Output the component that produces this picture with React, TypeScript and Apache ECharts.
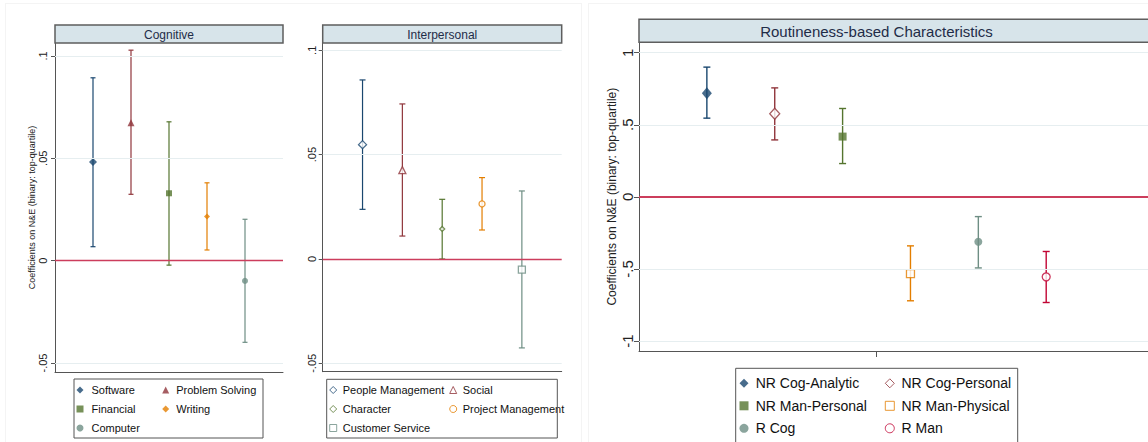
import React, { useEffect, useRef } from "react";
import * as echarts from "echarts";

const FONT = "'Liberation Sans', Arial, Helvetica, sans-serif";

// ---------- Data ----------
const cognitiveNames = ["Software", "Problem Solving", "Financial", "Writing", "Computer"];
const cognitiveCoef = [0.0482, 0.0674, 0.0329, 0.0215, -0.0099];
const cognitiveLow = [0.0068, 0.0324, -0.0022, 0.0052, -0.0399];
const cognitiveHigh = [0.0893, 0.1028, 0.0678, 0.038, 0.0202];
const cognitiveTicks = [-0.05, 0, 0.05, 0.1];

const interpersonalNames = ["People Management", "Social", "Character", "Project Management", "Customer Service"];
const interpersonalCoef = [0.0548, 0.0426, 0.0144, 0.0264, -0.0051];
const interpersonalLow = [0.0238, 0.011, 0.0, 0.0139, -0.0426];
const interpersonalHigh = [0.0858, 0.0743, 0.0286, 0.039, 0.0326];
const interpersonalTicks = [-0.05, 0, 0.05, 0.1];

const routineNames = ["NR Cog-Analytic", "NR Cog-Personal", "NR Man-Personal", "NR Man-Physical", "R Cog", "R Man"];
const routineCoef = [0.719, 0.576, 0.418, -0.532, -0.312, -0.555];
const routineLow = [0.546, 0.395, 0.231, -0.721, -0.493, -0.733];
const routineHigh = [0.9, 0.756, 0.613, -0.34, -0.137, -0.379];
const routineTicks = [-1, -0.5, 0, 0.5, 1];

const panelTitles = ["Cognitive", "Interpersonal", "Routineness-based Characteristics"];
const yTitle = "Coefficients on N&E (binary: top-quartile)";

// ---------- Styles ----------
const NAVY = "#1a476f";
const MAROON = "#90353b";
const GREEN = "#55752f";
const ORANGE = "#e37e00";
const TEAL = "#6e8e84";
const CRAN = "#c10534";
const ZERO = "#cc3d5c";
const GRIDC = "#e6eef0";
const AXISC = "#555555";

type Mk = { color: string; symbol: string; size: number | number[]; hollow: boolean };

const cogStyles: Mk[] = [
  { color: NAVY, symbol: "diamond", size: 8, hollow: false },
  { color: MAROON, symbol: "triangle", size: 7, hollow: false },
  { color: GREEN, symbol: "rect", size: 6, hollow: false },
  { color: ORANGE, symbol: "diamond", size: 6, hollow: false },
  { color: TEAL, symbol: "circle", size: 6, hollow: false },
];
const intStyles: Mk[] = [
  { color: NAVY, symbol: "diamond", size: 8, hollow: true },
  { color: MAROON, symbol: "triangle", size: 7, hollow: true },
  { color: GREEN, symbol: "diamond", size: 5, hollow: true },
  { color: ORANGE, symbol: "circle", size: 6, hollow: true },
  { color: TEAL, symbol: "rect", size: 7, hollow: true },
];
const rouStyles: Mk[] = [
  { color: NAVY, symbol: "diamond", size: [10, 12], hollow: false },
  { color: MAROON, symbol: "diamond", size: [10, 11], hollow: true },
  { color: GREEN, symbol: "rect", size: 8, hollow: false },
  { color: ORANGE, symbol: "rect", size: 8, hollow: true },
  { color: TEAL, symbol: "circle", size: 8, hollow: false },
  { color: CRAN, symbol: "circle", size: 8, hollow: true },
];

const panels = [
  { names: cognitiveNames, coef: cognitiveCoef, low: cognitiveLow, high: cognitiveHigh, ticks: cognitiveTicks, styles: cogStyles, cap: 5, lw: 1.2, zeroW: 1.3 },
  { names: interpersonalNames, coef: interpersonalCoef, low: interpersonalLow, high: interpersonalHigh, ticks: interpersonalTicks, styles: intStyles, cap: 6, lw: 1.2, zeroW: 1.3 },
  { names: routineNames, coef: routineCoef, low: routineLow, high: routineHigh, ticks: routineTicks, styles: rouStyles, cap: 7, lw: 1.4, zeroW: 2 },
];

const grids = [
  { left: 55, top: 43, width: 228, height: 329 },
  { left: 322.7, top: 43, width: 239, height: 328.7 },
  { left: 639, top: 42.3, width: 510, height: 308.7 },
];
const yRanges = [
  [-0.0544, 0.1063],
  [-0.054, 0.1035],
  [-1.0694, 1.0722],
];
const xRanges = [
  [0, 6],
  [0, 6],
  [0, 7.5],
];

const fmt = (v: number) => {
  if (Math.abs(v) < 1e-12) return "0";
  const s = String(+v.toFixed(4));
  return s.replace(/^(-?)0\./, "$1.");
};

function buildOption() {
  const series: any[] = [];
  panels.forEach((p, gi) => {
    series.push({
      type: "line",
      name: "grid" + gi,
      xAxisIndex: gi,
      yAxisIndex: gi,
      data: [],
      z: 1,
      silent: true,
      markLine: {
        silent: true,
        symbol: ["none", "none"],
        label: { show: false },
        lineStyle: { color: GRIDC, width: 1, type: "solid" },
        emphasis: { disabled: true },
        data: p.ticks.filter((v) => v !== 0).map((v) => ({ yAxis: v })),
      },
    });
    series.push({
      type: "line",
      name: "zero" + gi,
      xAxisIndex: gi,
      yAxisIndex: gi,
      data: [],
      z: 2,
      silent: true,
      markLine: {
        silent: true,
        symbol: ["none", "none"],
        label: { show: false },
        lineStyle: { color: ZERO, width: p.zeroW, type: "solid" },
        emphasis: { disabled: true },
        data: [{ yAxis: 0 }],
      },
    });
    series.push({
      type: "custom",
      name: "ci" + gi,
      xAxisIndex: gi,
      yAxisIndex: gi,
      z: 3,
      silent: true,
      data: p.names.map((_, i) => [i + 1, p.low[i], p.high[i], i]),
      encode: { x: 0, y: [1, 2] },
      renderItem: (params: any, api: any) => {
        const x = api.value(0);
        const lo = api.coord([x, api.value(1)]);
        const hi = api.coord([x, api.value(2)]);
        const c = p.styles[api.value(3)].color;
        const st = { stroke: c, lineWidth: p.lw };
        const h = p.cap / 2;
        return {
          type: "group",
          children: [
            { type: "line", shape: { x1: lo[0], y1: lo[1], x2: hi[0], y2: hi[1] }, style: st },
            { type: "line", shape: { x1: lo[0] - h, y1: lo[1], x2: lo[0] + h, y2: lo[1] }, style: st },
            { type: "line", shape: { x1: hi[0] - h, y1: hi[1], x2: hi[0] + h, y2: hi[1] }, style: st },
          ],
        };
      },
    });
    p.names.forEach((n, i) => {
      const s = p.styles[i];
      series.push({
        type: "scatter",
        name: n,
        xAxisIndex: gi,
        yAxisIndex: gi,
        z: 4,
        symbol: s.symbol,
        symbolSize: s.size,
        itemStyle: s.hollow
          ? { color: "#ffffff", borderColor: s.color, borderWidth: 1.3 }
          : { color: s.color },
        data: [[i + 1, p.coef[i]]],
      });
    });
  });

  const xAxis = grids.map((_, gi) => ({
    type: "value",
    gridIndex: gi,
    min: xRanges[gi][0],
    max: xRanges[gi][1],
    axisLine: { show: true, onZero: false, lineStyle: { color: AXISC, width: 1 } },
    axisTick:
      gi === 2
        ? { show: true, customValues: [3.5], length: 6, lineStyle: { color: AXISC } }
        : { show: false },
    axisLabel: { show: false },
    splitLine: { show: false },
  }));

  const yAxis = grids.map((_, gi) => ({
    type: "value",
    gridIndex: gi,
    min: yRanges[gi][0],
    max: yRanges[gi][1],
    axisLine: { show: true, onZero: false, lineStyle: { color: AXISC, width: 1 } },
    axisTick: { show: true, length: gi === 2 ? 5 : 4, customValues: panels[gi].ticks, lineStyle: { color: AXISC } },
    axisLabel: {
      customValues: panels[gi].ticks,
      rotate: 90,
      formatter: (v: number) => fmt(v),
      fontSize: gi === 2 ? 15 : 11,
      color: "#222",
      fontFamily: FONT,
      margin: gi === 0 ? 7 : gi === 1 ? 5 : 4,
    },
    splitLine: { show: false },
    name: gi === 1 ? "" : yTitle,
    nameLocation: "middle",
    nameRotate: 90,
    nameGap: gi === 0 ? 18 : 21,
    nameTextStyle: { fontSize: gi === 0 ? 9 : 12, color: "#222", fontFamily: FONT },
  }));

  const legendBase = (left: number, top: number, names: string[], icon: number, fs: number, lh: number, gap: number, pad: number) => ({
    orient: "vertical",
    left,
    top,
    padding: 0,
    itemWidth: icon,
    itemHeight: icon,
    itemGap: gap,
    selectedMode: false,
    itemStyle: { borderWidth: 1 },
    textStyle: { fontSize: fs, lineHeight: lh, color: "#111", fontFamily: FONT, padding: [0, 0, 0, pad] },
    data: names,
  });

  const legend = [
    legendBase(76.5, 383, [cognitiveNames[0], cognitiveNames[2], cognitiveNames[4]], 7, 11, 14, 5, 3),
    legendBase(162.2, 383, [cognitiveNames[1], cognitiveNames[3]], 7, 11, 14, 5, 2),
    legendBase(329.2, 383, [interpersonalNames[0], interpersonalNames[2], interpersonalNames[4]], 7, 11, 14, 5, 1),
    legendBase(449.2, 383, [interpersonalNames[1], interpersonalNames[3]], 7, 11, 14, 5, 1),
    legendBase(739.5, 375.3, [routineNames[0], routineNames[2], routineNames[4]], 9, 14, 16, 6.5, 2.2),
    legendBase(884.8, 375.3, [routineNames[1], routineNames[3], routineNames[5]], 9, 14, 16, 6.5, 2.2),
  ];

  const headerBoxes = [
    { x: 55, y: 25, w: 228, h: 18, fs: 12, cx: 169 },
    { x: 322.7, y: 25, w: 239, h: 18, fs: 12, cx: 442.2 },
    { x: 639, y: 19.3, w: 520, h: 23, fs: 15, cx: 876.5 },
  ];

  const faint = "#f4f4f4";
  const graphic: any[] = [
    // faint image borders
    { type: "line", shape: { x1: 5, y1: 3.5, x2: 582, y2: 3.5 }, style: { stroke: faint, lineWidth: 1 }, silent: true },
    { type: "line", shape: { x1: 588, y1: 3.5, x2: 1148, y2: 3.5 }, style: { stroke: faint, lineWidth: 1 }, silent: true },
    { type: "line", shape: { x1: 5.5, y1: 3.5, x2: 5.5, y2: 442 }, style: { stroke: faint, lineWidth: 1 }, silent: true },
    { type: "line", shape: { x1: 581.5, y1: 3.5, x2: 581.5, y2: 442 }, style: { stroke: faint, lineWidth: 1 }, silent: true },
    { type: "line", shape: { x1: 588.5, y1: 3.5, x2: 588.5, y2: 442 }, style: { stroke: faint, lineWidth: 1 }, silent: true },
  ];
  headerBoxes.forEach((h, i) => {
    graphic.push({
      type: "rect",
      shape: { x: h.x, y: h.y, width: h.w, height: h.h },
      style: { fill: "#d7e4ea", stroke: "#5e5e5e", lineWidth: 1.5 },
      z: 10,
      silent: true,
    });
    graphic.push({
      type: "text",
      x: h.cx,
      y: h.y + h.h / 2 + 0.5,
      style: { text: panelTitles[i], fill: "#1f2c48", font: `${h.fs}px ${FONT}`, textAlign: "center", textVerticalAlign: "middle" },
      z: 11,
      silent: true,
    });
  });
  const legendBoxes = [
    { x: 74, y: 379, w: 189, h: 59 },
    { x: 326.7, y: 379.3, w: 230.6, h: 58.7 },
    { x: 735.7, y: 368.3, w: 282, h: 82 },
  ];
  legendBoxes.forEach((b) => {
    graphic.push({
      type: "rect",
      shape: { x: b.x, y: b.y, width: b.w, height: b.h },
      style: { fill: "none", stroke: "#555", lineWidth: 1 },
      z: 10,
      silent: true,
    });
  });

  return {
    animation: false,
    backgroundColor: "#ffffff",
    textStyle: { fontFamily: FONT },
    grid: grids.map((g) => ({ ...g, containLabel: false })),
    xAxis,
    yAxis,
    legend,
    series,
    graphic,
    tooltip: { show: false },
  };
}

export default function App() {
  const ref = useRef<HTMLDivElement>(null);
  useEffect(() => {
    if (!ref.current) return;
    const chart = echarts.init(ref.current, null, { renderer: "svg" });
    chart.setOption(buildOption() as any);
    return () => chart.dispose();
  }, []);
  return (
    <div
      ref={ref}
      style={{ position: "absolute", left: 0, top: 0, width: 1148, height: 442, background: "#fff" }}
    />
  );
}
